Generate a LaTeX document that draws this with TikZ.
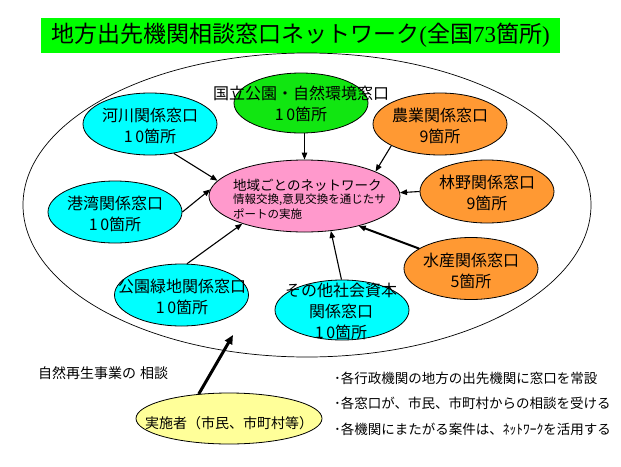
\documentclass[tikz,border=0pt]{standalone}
\usepackage{fontspec}
\setmainfont{Noto Sans CJK JP}
\newfontfamily\serifnum{Liberation Serif}
\usetikzlibrary{shapes.geometric,arrows.meta}
\definecolor{titlegreen}{HTML}{00FF00}
\definecolor{wingreen}{HTML}{11E611}
\definecolor{wincyan}{HTML}{00FFFF}
\definecolor{winorange}{HTML}{FF9933}
\definecolor{netpink}{HTML}{FF99CC}
\definecolor{useryellow}{HTML}{FFFF99}
\begin{document}
\begin{tikzpicture}[x=1pt,y=-1pt,
  win/.style={ellipse, draw=black, line width=0.8pt, inner sep=0pt, minimum width=134pt, minimum height=62pt},
  lbl/.style={align=center, inner sep=0pt, font=\fontsize{16}{21}\selectfont},
  arr/.style={-{Triangle[length=7pt,width=5.5pt]}, line width=1.1pt},
  note/.style={anchor=west, inner sep=0pt, font=\fontsize{13.5}{16}\selectfont}]
\useasboundingbox (0,0) rectangle (621,466);
% title
\node[fill=titlegreen, minimum width=519pt, minimum height=35pt, inner sep=0pt] (title) at (300.5,35.5)
  {\fontsize{23}{26}\selectfont 地方出先機関相談窓口ネットワーク{\serifnum (}全国{\serifnum 73}箇所{\serifnum )}};
% big area
\node[ellipse, draw=black, line width=0.7pt, minimum width=568pt, minimum height=304pt, inner sep=0pt] (area) at (307,205) {};
% windows
\node[win, fill=wincyan] (kasen) at (150,124) {};
\node[win, fill=wingreen, minimum height=60pt] (koku) at (301,103) {};
\node[win, fill=winorange] (nogyo) at (440,124) {};
\node[win, fill=wincyan] (kowan) at (115,212) {};
\node[win, fill=winorange, minimum height=63pt] (rinya) at (487,191.5) {};
\node[win, fill=winorange] (suisan) at (471,268.5) {};
\node[win, fill=wincyan] (koen) at (181.5,295) {};
\node[win, fill=wincyan, minimum height=60pt] (sonota) at (342,310) {};
\node[ellipse, draw=black, line width=0.8pt, inner sep=0pt, fill=netpink, minimum width=191pt, minimum height=72pt] (net) at (304.5,196) {};
\node[ellipse, draw=black, line width=0.8pt, inner sep=0pt, fill=useryellow, minimum width=186pt, minimum height=51pt] (user) at (229,418.5) {};
% labels
\node[lbl] (kasenT) at (150,125.5) {河川関係窓口\\1\,0箇所};
\node[lbl] (kokuT) at (301,104) {国立公園・自然環境窓口\\1\,0箇所};
\node[lbl] (nogyoT) at (440,125.5) {農業関係窓口\\9箇所};
\node[lbl] (kowanT) at (115,213.5) {港湾関係窓口\\1\,0箇所};
\node[lbl] (rinyaT) at (487,193) {林野関係窓口\\9箇所};
\node[lbl] (suisanT) at (471,270.5) {水産関係窓口\\5箇所};
\node[lbl] (koenT) at (182,297) {公園緑地関係窓口\\1\,0箇所};
\node[lbl] (sonotaT) at (341,311) {その他社会資本\\関係窓口\\1\,0箇所};
\node[anchor=west, inner sep=0pt, font=\fontsize{13.5}{16}\selectfont] (netT1) at (233,185) {地域ごとのネットワーク};
\node[anchor=west, inner sep=0pt, font=\fontsize{11.5}{14}\selectfont] (netT2) at (233,200) {情報交換,意見交換を通じたサ};
\node[anchor=west, inner sep=0pt, font=\fontsize{11.5}{14}\selectfont] (netT3) at (233,214) {ポートの実施};
\node[inner sep=0pt, font=\fontsize{14}{16}\selectfont] (userT) at (229,423) {実施者（市民、市町村等）};
\node[anchor=west, inner sep=0pt, font=\fontsize{14}{16}\selectfont] (consult) at (38,373) {自然再生事業の\hspace{4pt}相談};
\node[note] (b1) at (334,378) {･各行政機関の地方の出先機関に窓口を常設};
\node[note] (b2) at (334,403) {･各窓口が、市民、市町村からの相談を受ける};
\node[note] (b3) at (334,429) {･各機関にまたがる案件は、ﾈｯﾄﾜｰｸを活用する};
% connectors
\draw[arr] (kasen.-51) -- (net.170);
\draw[arr] (koku.south -| net.north) -- (net.north);
\draw[arr] (nogyo.204.5) -- (net.19.8);
\draw[arr] (kowan.0) -- (net.176);
\draw[arr] (rinya.180) -- (net.2);
\draw[arr, line width=2pt] (suisan.159.6) -- (net.-29.1);
\draw[arr] (koen.80) -- (net.204);
\draw[arr] (sonota.91.7) -- (net.-53.4);
\coordinate (areaIn) at (233,335);
\draw[-{Triangle[length=9pt,width=8pt]}, line width=3pt] (user.141.4) -- (areaIn);
\end{tikzpicture}
\end{document}
